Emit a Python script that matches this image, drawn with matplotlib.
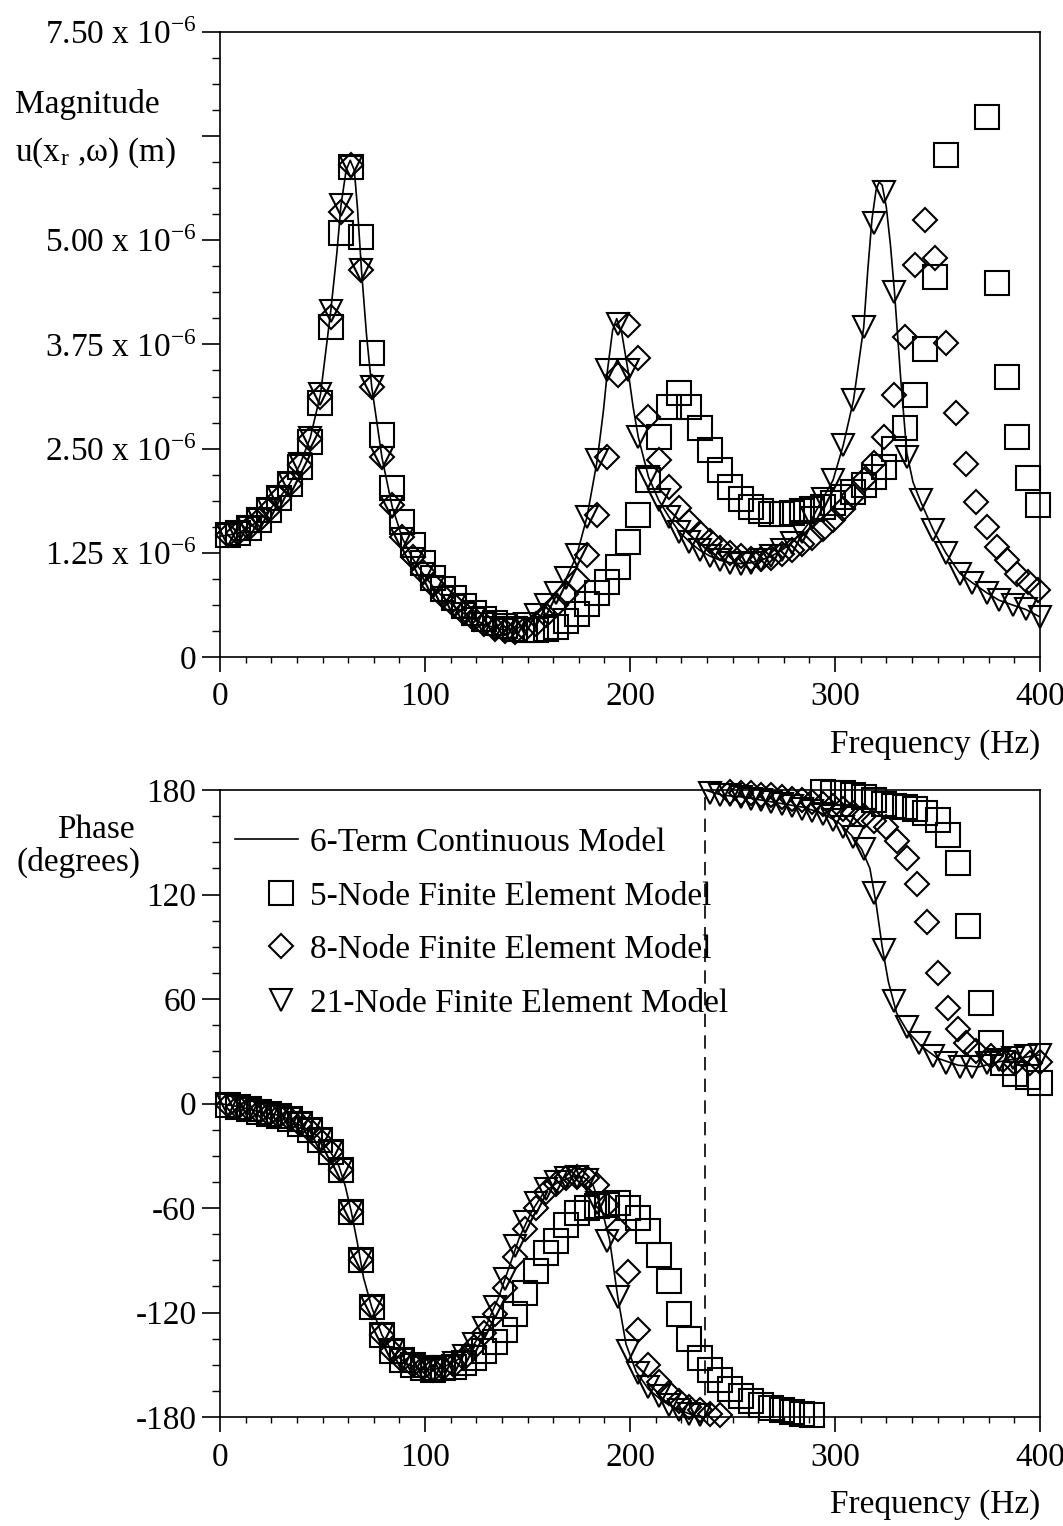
import numpy as np
import matplotlib.pyplot as plt
from matplotlib.ticker import MultipleLocator
from matplotlib.legend_handler import HandlerLine2D

plt.rcParams['font.family'] = ['Liberation Serif', 'DejaVu Serif']
plt.rcParams['mathtext.fontset'] = 'stix'
plt.rcParams['font.size'] = 24
plt.rcParams['axes.unicode_minus'] = False

# ---------------- magnitude (x 1e-6 m) ----------------
# 6-term continuous model
line_f = [0, 4, 9, 14, 19, 24, 29, 34, 39, 44,
          49, 54, 57, 59, 61.5, 63.5, 65.5, 67, 69, 71.5,
          74, 79, 84, 89, 94, 99, 104, 109, 114, 119,
          124, 129, 134, 139, 144, 149, 154, 159, 164, 169,
          174, 179, 184, 187, 189, 191.5, 193.5, 196, 199, 201.5,
          204, 209, 214, 219, 224, 229, 234, 239, 244, 249,
          254, 259, 264, 269, 274, 279, 284, 289, 294, 299,
          304, 309, 314, 316, 318, 320, 321.5, 323, 325, 327,
          329, 332, 335, 338, 342, 348, 354, 361, 367, 374,
          380, 387, 393, 400]
line_mag = [1.45, 1.46, 1.49, 1.55, 1.64, 1.76, 1.91, 2.08, 2.31, 2.63,
            3.15, 4.15, 4.85, 5.42, 5.84, 5.96, 5.84, 5.40, 4.64, 3.85,
            3.24, 2.39, 1.80, 1.42, 1.18, 1.00, 0.84, 0.71, 0.61, 0.52,
            0.45, 0.39, 0.35, 0.32, 0.33, 0.40, 0.50, 0.62, 0.77, 0.95,
            1.22, 1.68, 2.36, 2.95, 3.44, 3.92, 4.06, 3.88, 3.44, 3.00,
            2.64, 2.16, 1.88, 1.68, 1.50, 1.38, 1.28, 1.21, 1.16, 1.13,
            1.12, 1.13, 1.16, 1.21, 1.28, 1.37, 1.50, 1.67, 1.90, 2.12,
            2.54, 3.08, 3.96, 4.65, 5.25, 5.60, 5.70, 5.66, 5.40, 4.95,
            4.38, 3.35, 2.45, 2.10, 1.85, 1.52, 1.25, 1.00, 0.89, 0.77,
            0.68, 0.62, 0.57, 0.48]

# 5-node finite element model
sq_f = [4, 9, 14, 19, 24, 29, 34, 39, 44, 49,
        54, 59, 64, 69, 74, 79, 84, 89, 94, 99,
        104, 109, 114, 119, 124, 129, 134, 139, 144, 149,
        154, 159, 164, 169, 174, 179, 184, 189, 194, 199,
        204, 209, 214, 219, 224, 229, 234, 239, 244, 249,
        254, 259, 264, 269, 274, 279, 284, 289, 294, 299,
        304, 309, 314, 319, 324, 329, 334, 339, 344, 349,
        354, 374, 379, 384, 389, 394, 399]
sq_mag = [1.46, 1.49, 1.55, 1.64, 1.76, 1.91, 2.07, 2.28, 2.58, 3.05,
          3.96, 5.09, 5.88, 5.04, 3.65, 2.66, 2.03, 1.62, 1.34, 1.13,
          0.95, 0.82, 0.71, 0.61, 0.53, 0.46, 0.41, 0.37, 0.34, 0.32,
          0.32, 0.33, 0.36, 0.43, 0.52, 0.64, 0.77, 0.90, 1.08, 1.38,
          1.70, 2.12, 2.64, 3.00, 3.17, 3.00, 2.75, 2.48, 2.24, 2.04,
          1.90, 1.80, 1.75, 1.72, 1.72, 1.73, 1.75, 1.77, 1.80, 1.85,
          1.92, 1.98, 2.06, 2.16, 2.28, 2.50, 2.75, 3.14, 3.70, 4.56,
          6.02, 6.48, 4.49, 3.36, 2.64, 2.15, 1.82]

# 8-node finite element model
dia_f = [4, 9, 14, 19, 24, 29, 34, 39, 44, 49,
         54, 59, 64, 69, 74, 79, 84, 89, 94, 99,
         104, 109, 114, 119, 124, 129, 134, 139, 144, 149,
         154, 159, 164, 169, 174, 179, 184, 189, 194, 199,
         204, 209, 214, 219, 224, 229, 234, 239, 244, 249,
         254, 259, 264, 269, 274, 279, 284, 289, 294, 299,
         304, 309, 314, 319, 324, 329, 334, 339, 344, 349,
         354, 359, 364, 369, 374, 379, 384, 389, 394, 399]
dia_mag = [1.46, 1.49, 1.55, 1.64, 1.76, 1.91, 2.08, 2.30, 2.62, 3.12,
           4.08, 5.34, 5.90, 4.64, 3.24, 2.40, 1.82, 1.44, 1.20, 1.02,
           0.86, 0.73, 0.62, 0.53, 0.45, 0.39, 0.34, 0.31, 0.30, 0.33,
           0.40, 0.50, 0.62, 0.75, 0.92, 1.22, 1.70, 2.40, 3.38, 3.98,
           3.59, 2.88, 2.36, 2.04, 1.79, 1.62, 1.49, 1.39, 1.31, 1.25,
           1.21, 1.18, 1.17, 1.19, 1.23, 1.28, 1.35, 1.43, 1.53, 1.64,
           1.77, 1.93, 2.12, 2.33, 2.64, 3.14, 3.84, 4.70, 5.24, 4.79,
           3.77, 2.93, 2.32, 1.86, 1.56, 1.32, 1.16, 1.00, 0.90, 0.80]

# 21-node finite element model
tri_f = [4, 9, 14, 19, 24, 29, 34, 39, 44, 49,
         54, 59, 64, 69, 74, 79, 84, 89, 94, 99,
         104, 109, 114, 119, 124, 129, 134, 139, 144, 149,
         154, 159, 164, 169, 174, 179, 184, 189, 194, 199,
         204, 209, 214, 219, 224, 229, 234, 239, 244, 249,
         254, 259, 264, 269, 274, 279, 284, 289, 294, 299,
         304, 309, 314, 319, 324, 329, 335, 342, 348, 354,
         361, 367, 374, 380, 387, 393, 400]
tri_mag = [1.46, 1.49, 1.55, 1.64, 1.76, 1.91, 2.08, 2.31, 2.63, 3.15,
           4.15, 5.42, 5.88, 4.64, 3.24, 2.39, 1.80, 1.42, 1.18, 1.00,
           0.84, 0.71, 0.61, 0.52, 0.45, 0.39, 0.35, 0.32, 0.33, 0.40,
           0.50, 0.62, 0.77, 0.95, 1.22, 1.68, 2.36, 3.44, 4.00, 3.44,
           2.64, 2.16, 1.88, 1.68, 1.50, 1.38, 1.28, 1.21, 1.16, 1.13,
           1.12, 1.13, 1.16, 1.21, 1.28, 1.37, 1.50, 1.67, 1.90, 2.12,
           2.54, 3.08, 3.96, 5.21, 5.58, 4.38, 2.40, 1.88, 1.52, 1.25,
           1.00, 0.89, 0.77, 0.68, 0.62, 0.57, 0.48]

# ---------------- phase (degrees) ----------------
nan = np.nan
line_ph_f = [0, 10, 20, 30, 40, 48, 54, 58, 61, 64,
             67, 70, 74, 79, 85, 92, 100, 108, 116, 124,
             130, 136, 141, 146, 152, 158, 165, 172, 177, 182,
             186, 190, 194, 198, 203, 209, 216, 224, 231, 236.5,
             236.5, 236.5, 245, 255, 265, 275, 285, 295, 302, 308,
             313, 317, 320, 323, 326, 330, 335, 342, 350, 360,
             370, 380, 390, 400]
line_ph = [0, -2, -5, -7, -13, -19, -28, -36, -47, -62,
           -80, -100, -117, -133, -144, -150, -153, -152, -147, -138,
           -127, -111, -94, -77, -62, -51, -45, -42, -42, -47,
           -60, -78, -111, -138, -154, -164, -171, -176, -179, -180,
           nan, 180, 177, 176, 174, 172, 170, 166, 161, 154,
           146, 135, 115, 90, 70, 52, 42, 33, 26, 22,
           21, 24, 26, 28]
# jump of the continuous phase from -180 to +180
wrap_f = [236.5, 236.5]
wrap_ph = [-180, 180]

sq_ph_f = [4, 9, 14, 19, 24, 29, 34, 39, 44, 49,
           54, 59, 64, 69, 74, 79, 84, 89, 94, 99,
           104, 109, 114, 119, 124, 129, 134, 139, 144, 149,
           154, 159, 164, 169, 174, 179, 184, 189, 194, 199,
           204, 209, 214, 219, 224, 229, 234, 239, 244, 249,
           254, 259, 264, 269, 274, 279, 284, 289,
           294, 299, 304, 309, 314, 319, 324, 329, 334, 339,
           344, 350, 355, 360, 365, 371, 376, 382, 388, 394, 400]
sq_ph = [-1, -2, -3, -5, -6, -7, -9, -12, -15, -21,
         -28, -38, -62, -90, -117, -133, -142, -147, -150, -152,
         -153, -152, -151, -149, -146, -142, -137, -130, -121, -109,
         -96, -86, -79, -70, -63, -60, -59, -58, -57, -60,
         -66, -73, -87, -102, -121, -135, -146, -153, -159, -164,
         -168, -171, -173, -175, -176, -177, -178, -179,
         179, 178, 178, 177, 176, 174, 172, 171, 170, 169,
         167, 163, 154, 138, 102, 58, 35, 23, 17, 15, 12]

dia_ph_f = [4, 9, 14, 19, 24, 29, 34, 39, 44, 49,
            54, 59, 64, 69, 74, 79, 84, 89, 94, 99,
            104, 109, 114, 119, 124, 129, 134, 139, 144, 149,
            154, 159, 164, 169, 174, 179, 184, 189, 194, 199,
            204, 209, 214, 219, 224, 229, 234, 239, 244,
            249, 254, 259, 264, 269, 274, 279, 284, 289, 294,
            299, 304, 309, 314, 319, 325, 330, 335, 340, 345,
            350, 355, 360, 364, 369, 376, 382, 388, 395, 400]
dia_ph = [-1, -2, -3, -5, -6, -7, -9, -12, -15, -21,
          -28, -38, -62, -90, -117, -133, -142, -147, -150, -152,
          -153, -152, -150, -146, -140, -132, -121, -106, -88, -72,
          -60, -51, -46, -43, -42, -43, -47, -58, -72, -97,
          -130, -150, -160, -166, -171, -174, -176, -178, -179,
          179, 178, 178, 177, 177, 176, 175, 174, 173, 172,
          171, 169, 167, 165, 162, 159, 151, 141, 126, 104,
          75, 55, 43, 35, 30, 27, 25, 23, 23, 24]

tri_ph_f = [4, 9, 14, 19, 24, 29, 34, 39, 44, 49,
            54, 59, 64, 69, 74, 79, 84, 89, 94, 99,
            104, 109, 114, 119, 124, 129, 134, 139, 144, 149,
            154, 159, 164, 169, 174, 179, 184, 189, 194, 199,
            204, 209, 214, 219, 224, 229, 234,
            239, 244, 249, 254, 259, 264, 269, 274, 279, 284,
            289, 294, 299, 304, 309, 314, 319, 324, 329, 335,
            341, 348, 354, 361, 367, 374, 380, 387, 393, 400]
tri_ph = [-1, -2, -3, -5, -6, -7, -9, -12, -15, -21,
          -28, -38, -62, -90, -117, -133, -142, -147, -150, -152,
          -153, -151, -149, -145, -138, -129, -117, -101, -82, -68,
          -57, -49, -45, -43, -42, -44, -57, -79, -111, -142,
          -155, -163, -168, -173, -176, -178, -179,
          178, 177, 177, 176, 175, 174, 173, 172, 171, 169,
          168, 166, 163, 159, 153, 146, 121, 88, 59, 44,
          35, 27, 23, 21, 21, 23, 25, 26, 27, 28]

mag_ticks = [0, 1.25, 2.5, 3.75, 5.0, 6.25, 7.5]
mag_labels = ['0', '1.25 x 10$^{\\mathregular{-6}}$', '2.50 x 10$^{\\mathregular{-6}}$',
              '3.75 x 10$^{\\mathregular{-6}}$', '5.00 x 10$^{\\mathregular{-6}}$', '',
              '7.50 x 10$^{\\mathregular{-6}}$']
ph_ticks = [-180, -120, -60, 0, 60, 120, 180]
ph_labels = ['-180', '-120', '-60', '0', '60', '120', '180']
f_ticks = [0, 100, 200, 300, 400]
names = ['6-Term Continuous Model', '5-Node Finite Element Model',
         '8-Node Finite Element Model', '21-Node Finite Element Model']


class MarkerRight(HandlerLine2D):
    # the single legend symbol is drawn at the middle of xdata,
    # so start the (invisible) line part way in to push it right
    def get_xdata(self, legend, xdescent, ydescent, width, height, fontsize):
        xdata = np.array([-xdescent + 0.46 * width, -xdescent + width])
        return xdata, xdata


fig = plt.figure(figsize=(10.63, 15.26), dpi=100)
ax1 = fig.add_axes([0.207, 0.5695, 0.7714, 0.4096])
ax2 = fig.add_axes([0.207, 0.0714, 0.7714, 0.4109])

mk = dict(ls='none', mfc='none', mec='black', mew=1.5, clip_on=False)

ax1.plot(line_f, line_mag, color='black', lw=1.2)
ax1.plot(sq_f, sq_mag, marker='s', ms=17.5, **mk)
ax1.plot(dia_f, dia_mag, marker='D', ms=12, **mk)
ax1.plot(tri_f, tri_mag, marker='v', ms=16.5, **mk)

h0, = ax2.plot(line_ph_f, line_ph, color='black', lw=1.2, label=names[0])
ax2.plot(wrap_f, wrap_ph, color='black', lw=1.2, dashes=(8, 5))
h1, = ax2.plot(sq_ph_f, sq_ph, marker='s', ms=17.5, label=names[1], **mk)
h2, = ax2.plot(dia_ph_f, dia_ph, marker='D', ms=12, label=names[2], **mk)
h3, = ax2.plot(tri_ph_f, tri_ph, marker='v', ms=16.5, label=names[3], **mk)

for ax in (ax1, ax2):
    ax.set_xlim(0, 400)
    ax.set_xticks(f_ticks)
    ax.xaxis.set_minor_locator(MultipleLocator(12.5))
    ax.tick_params(axis='x', which='major', direction='out', length=11, width=1.2, pad=7)
    ax.tick_params(axis='x', which='minor', direction='out', length=4.5, width=1.0)
    ax.tick_params(axis='y', which='major', direction='out', length=13, width=1.2, pad=4)
    ax.tick_params(axis='y', which='minor', direction='out', length=5.5, width=1.0)
    for s in ax.spines.values():
        s.set_linewidth(1.2)
    ax.set_xlabel('Frequency (Hz)', loc='right', labelpad=12)

ax1.set_ylim(0, 7.5)
ax1.set_yticks(mag_ticks, mag_labels)
ax1.yaxis.set_minor_locator(MultipleLocator(0.3125))

ax2.set_ylim(-180, 180)
ax2.set_yticks(ph_ticks, ph_labels)
ax2.yaxis.set_minor_locator(MultipleLocator(15))

ax2.legend(handles=[h0, h1, h2, h3], loc='upper left', bbox_to_anchor=(0.018, 0.94),
           frameon=False, handlelength=1.9, handletextpad=0.35, labelspacing=0.69,
           borderpad=0, borderaxespad=0, numpoints=1,
           handler_map={h1: MarkerRight(), h2: MarkerRight(), h3: MarkerRight()})

fig.text(15 / 1063, 1 - 113 / 1526, 'Magnitude', ha='left', va='baseline')
fig.text(15 / 1063, 1 - 161 / 1526, r'u(x$_{\mathregular{r}}$ ,ω) (m)', ha='left', va='baseline')
fig.text(57 / 1063, 1 - 838 / 1526, 'Phase', ha='left', va='baseline')
fig.text(17 / 1063, 1 - 871 / 1526, '(degrees)', ha='left', va='baseline')

fig.savefig('out.png', dpi=100)
